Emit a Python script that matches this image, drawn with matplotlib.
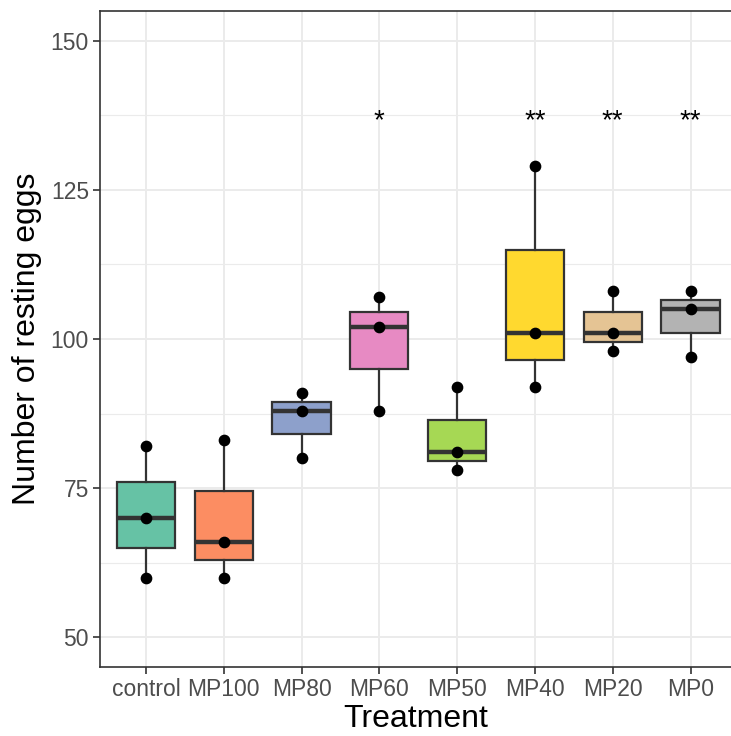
import numpy as np
import matplotlib.pyplot as plt

# resting eggs per treatment (3 replicates each)
groups = ['control', 'MP100', 'MP80', 'MP60', 'MP50', 'MP40', 'MP20', 'MP0']
eggs = [
    [60, 70, 82],
    [60, 66, 83],
    [80, 88, 91],
    [88, 102, 107],
    [78, 81, 92],
    [92, 101, 129],
    [98, 101, 108],
    [97, 105, 108],
]
stars = ['', '', '', '*', '', '**', '**', '**']
star_y = 137.5
colors = ['#66C2A5', '#FC8D62', '#8DA0CB', '#E78AC3',
          '#A6D854', '#FFD92F', '#E5C494', '#B3B3B3']

plt.rcParams['font.family'] = ['Liberation Sans', 'DejaVu Sans']

fig = plt.figure(figsize=(7.31, 7.36), dpi=100)
ax = fig.add_axes([0.1368, 0.0938, 0.8632, 0.8912])

pos = np.arange(1, len(groups) + 1)
edge = '#333333'
bp = ax.boxplot(eggs, positions=pos, widths=0.75, patch_artist=True,
                showfliers=False, whis=1.5,
                medianprops=dict(color=edge, linewidth=3.2),
                boxprops=dict(edgecolor=edge, linewidth=1.6),
                whiskerprops=dict(color=edge, linewidth=1.6),
                capprops=dict(linewidth=0), zorder=3)
for patch, c in zip(bp['boxes'], colors):
    patch.set_facecolor(c)

for p, vals in zip(pos, eggs):
    ax.scatter([p] * len(vals), vals, s=55, color='black', zorder=5)

# significance marks; asterisk glyph sits high in the em box, so nudge down
for p, s in zip(pos, stars):
    if s:
        ax.annotate(s, (p, star_y), xytext=(0, -4), textcoords='offset points',
                    ha='center', va='center', fontsize=20, zorder=6)

ax.set_xlim(0.41, 8.52)
ax.set_ylim(45, 155)
ax.set_xticks(pos)
ax.set_xticklabels(groups)
ax.set_yticks([50, 75, 100, 125, 150])
ax.set_yticks([62.5, 87.5, 112.5, 137.5], minor=True)

ax.grid(True, which='major', color='#EBEBEB', linewidth=1.4, zorder=0)
ax.grid(True, which='minor', axis='y', color='#EBEBEB', linewidth=0.8, zorder=0)
ax.set_axisbelow(True)
ax.tick_params(axis='both', which='major', length=5, width=1.2, color=edge,
               labelsize=16.5, labelcolor='#4D4D4D', pad=3)
ax.tick_params(axis='y', which='minor', length=0)

for name, sp in ax.spines.items():
    sp.set_color(edge)
    sp.set_linewidth(1.2)
ax.spines['right'].set_visible(False)

ax.set_xlabel('Treatment', fontsize=23, labelpad=2)
ax.set_ylabel('Number of resting eggs', fontsize=23, labelpad=6)

fig.savefig('out.png', dpi=100)
